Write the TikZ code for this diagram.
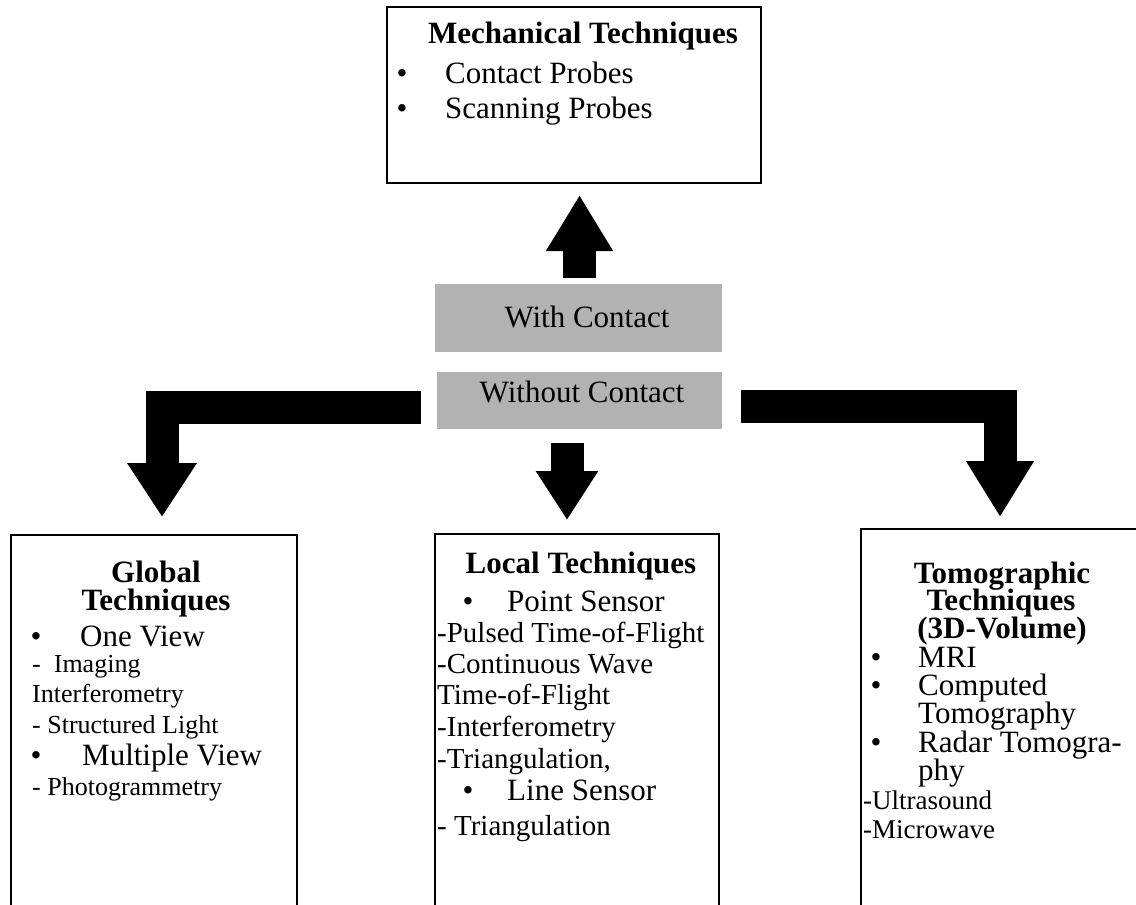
\documentclass[tikz,border=0pt]{standalone}
\usepackage{fontspec}
\setmainfont{Liberation Serif}
\usetikzlibrary{arrows.meta}
\begin{document}
\begin{tikzpicture}[x=1pt,y=-1pt,
  frame/.style={draw, line width=1.5pt, anchor=north west, inner sep=0pt, outer sep=0pt},
  shaded/.style={fill=black!30, anchor=north west, inner sep=0pt, outer sep=0pt},
  ttl/.style={anchor=base, inner sep=0pt, font=\fontsize{31}{31}\selectfont\bfseries},
  lbl/.style={anchor=base, inner sep=0pt, font=\fontsize{31}{31}\selectfont},
  itm/.style={anchor=base west, inner sep=0pt, font=\fontsize{31}{31}\selectfont},
  dot/.style={anchor=base, inner sep=0pt, font=\fontsize{31}{31}\selectfont},
  subitm/.style={anchor=base west, inner sep=0pt, font=\fontsize{#1}{#1}\selectfont},
  subitm/.default=27,
  blockarrow/.style n args={2}{line width=33pt, line join=miter,
    -{Triangle[length=#1 0 0, width=#2 0 0]}},
]
\useasboundingbox (0,0) rectangle (1136,905);

% boxes
\node[frame, minimum width=374pt, minimum height=176pt] (mech) at (387,7) {};
\node[frame, minimum width=286pt, minimum height=385pt] (global) at (11,535) {};
\node[frame, minimum width=284pt, minimum height=385pt] (local) at (435,534) {};
\node[frame, minimum width=290pt, minimum height=390pt] (tomo) at (861,529) {};

% contact / no-contact bars
\node[shaded, minimum width=287pt, minimum height=68pt] (with) at (435,284) {};
\node[shaded, minimum width=285pt, minimum height=57pt] (without) at (437,372) {};
\node[lbl] (withtxt) at (587,327) {With Contact};
\node[lbl] (withouttxt) at (582,402) {Without Contact};

% block arrows
\coordinate (up-from) at (579.5,278);
\coordinate (up-to) at (579.5,195);
\draw[blockarrow={56pt}{63pt}] (up-from) -- (up-to);

\coordinate (gl-from) at (421,407.5);
\coordinate (gl-to) at (162,517);
\draw[blockarrow={54pt}{66pt}] (gl-from) -| (gl-to);

\coordinate (lo-from) at (567,443);
\coordinate (lo-to) at (567,520);
\draw[blockarrow={49pt}{59pt}] (lo-from) -- (lo-to);

\coordinate (to-from) at (741,406);
\coordinate (to-to) at (1000,517);
\draw[blockarrow={56pt}{64pt}] (to-from) -| (to-to);

% mechanical techniques
\node[ttl] (m0) at (583,43) {Mechanical Techniques};
\node[dot] (m1d) at (402,83) {\textbullet};
\node[itm] (m1) at (445,83) {Contact Probes};
\node[dot] (m2d) at (402,118) {\textbullet};
\node[itm] (m2) at (445,118) {Scanning Probes};

% global techniques
\node[ttl] (g0) at (156,582) {Global};
\node[ttl] (g0b) at (156,610) {Techniques};
\node[dot] (g1d) at (36,646) {\textbullet};
\node[itm] (g1) at (80,646) {One View};
\node[subitm=26] (g2) at (32,672) {-\ \ Imaging};
\node[subitm=26] (g3) at (32,702) {Interferometry};
\node[subitm=26] (g4) at (32,733) {- Structured Light};
\node[dot] (g5d) at (36,765) {\textbullet};
\node[itm] (g5) at (82,765) {Multiple View};
\node[subitm=26] (g6) at (32,795) {- Photogrammetry};

% local techniques
\node[ttl] (l0) at (581,573) {Local Techniques};
\node[dot] (l1d) at (468,611) {\textbullet};
\node[itm] (l1) at (507,611) {Point Sensor};
\node[subitm=29] (l2) at (437,642) {-Pulsed Time-of-Flight};
\node[subitm=29] (l3) at (437,673) {-Continuous Wave};
\node[subitm=29] (l4) at (437,704) {Time-of-Flight};
\node[subitm=29] (l5) at (437,736) {-Interferometry};
\node[subitm=29] (l6) at (437,768) {-Triangulation,};
\node[dot] (l7d) at (468,800) {\textbullet};
\node[itm] (l7) at (507,800) {Line Sensor};
\node[subitm=29] (l8) at (437,835) {- Triangulation};

% tomographic techniques
\node[ttl] (t0) at (1002,583) {Tomographic};
\node[ttl] (t0b) at (1001,610) {Techniques};
\node[ttl] (t0c) at (1002,638) {(3D-Volume)};
\node[dot] (t1d) at (876,667) {\textbullet};
\node[itm] (t1) at (918,667) {MRI};
\node[dot] (t2d) at (876,695) {\textbullet};
\node[itm] (t2) at (918,695) {Computed};
\node[itm] (t2b) at (918,723) {Tomography};
\node[dot] (t3d) at (876,752) {\textbullet};
\node[itm] (t3) at (918,752) {Radar Tomogra-};
\node[itm] (t3b) at (918,780) {phy};
\node[subitm=27] (t4) at (863,809) {-Ultrasound};
\node[subitm=27] (t5) at (863,838) {-Microwave};
\end{tikzpicture}
\end{document}
